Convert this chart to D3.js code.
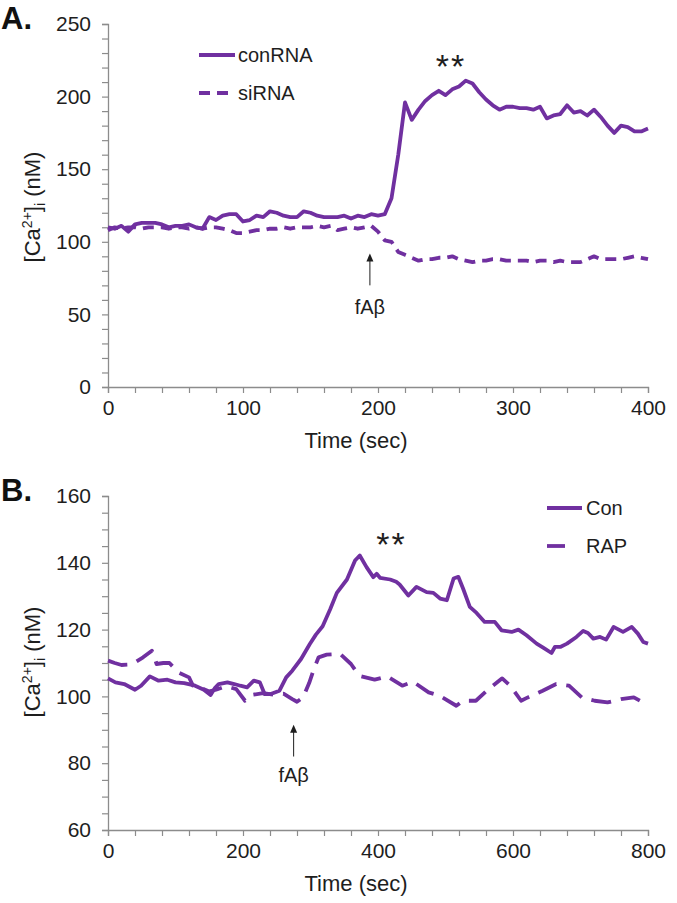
<!DOCTYPE html>
<html>
<head>
<meta charset="utf-8">
<script src="https://cdn.jsdelivr.net/npm/d3@7"></script>
<style>
  body { margin: 0; background: #fff; }
  text { font-family: "Liberation Sans", Arial, sans-serif; }
</style>
</head>
<body>
<script>
// Panel A data (time step 5 sec)
let timesA = d3.range(0, 401, 5);
let conRNA = [110,109,111,107,112,113,113,113,112,110,111,111,112,110,109,117,115,118,119,119,
	114,115,118,117,121,120,118,117,117,121,120,118,117,117,117,118,116,118,117,119,
	118,119,130,160,196,184,191,197,201,204,201,205,207,211,209,203,198,194,191,193,
	193,192,192,191,193,185,187,188,194,189,190,187,191,186,180,175,180,179,176,176,178];
let siRNA = [108,110,109,110,110,109,110,110,110,109,110,110,109,110,109,110,110,109,108,106,
	106,107,108,108,109,109,110,109,110,110,110,111,110,111,108,109,110,109,110,111,
	107,101,100,93,91,89,87,88,88,89,89,90,88,87,86,87,87,88,88,87,
	87,87,87,86,87,87,86,87,86,86,86,88,90,88,88,88,88,89,90,89,88];

// Panel B data [time, value]
let conB = [[0,105.4],[11,104.2],[24,103.7],[40,102],[49,103.2],[62,106],[75,104.7],[88,105],[100,104.2],
	[113,104],[129,103.2],[142,102],[152,100.4],[158,102.4],[164,103.7],[177,104.2],[187,103.7],[196,103.2],
	[206,102.7],[216,104.7],[225,104.2],[232,100.7],[241,100.7],[254,101.7],[264,105.7],[273,107.7],[286,111.2],
	[299,115.7],[308,118.5],[318,121],[329,126],[339,131],[354,135],[366,140.7],[373,142.2],[383,138.7],
	[393,135.7],[398,136.7],[403,135.5],[418,135],[427,134.3],[432,133.5],[445,130.2],[457,132.8],[472,131.2],
	[482,131],[492,129.3],[502,128.8],[512,135.3],[519,135.8],[526,132.3],[536,126.8],[546,125],[558,122.3],
	[573,122.3],[583,119.8],[598,119.3],[608,120],[620,118.3],[635,115.8],[647,114.3],[657,113],[662,114.8],
	[670,114.8],[680,115.8],[694,117.8],[704,119.6],[711,119],[719,117.3],[729,117.8],[738,117],[749,120.8],
	[763,119.3],[776,120.8],[785,118.8],[793,116.3],[800,115.8]];
let rapB = [[0,110.7],[10,110],[20,109.4],[30,109.5],[40,110.2],[52,111.7],[65,113.7],[72,109.7],[82,110],
	[91,110],[104,107.2],[120,105.7],[126,103.2],[136,102.7],[150,101.5],[160,102],[175,103],[190,102.2],
	[203,98.7],[215,100.5],[230,101],[245,100.5],[260,100.8],[273,99.2],[280,98.4],[289,99.7],[298,104],
	[305,108.2],[312,111.7],[324,112.5],[344,112.7],[360,109.7],[372,106.2],[395,105],[414,106],[436,103.2],
	[452,104.4],[475,101.2],[491,100.2],[516,97.2],[526,98.7],[545,98.7],[564,102.2],[584,105.4],[596,103.2],
	[612,98.7],[622,99.7],[644,101.7],[664,103.7],[683,103.2],[702,99.7],[721,98.7],[740,98.2],[760,99.2],
	[779,99.7],[788,98.7]];

let purple = "#7030a0";
let axisColor = "#8c8c8c";
let textColor = "#1e1e1e";

let svg = d3.select("body").append("svg")
	.attr("width", 677)
	.attr("height", 903);

function drawPanel(opt) {
	let g = svg.append("g");
	let x = d3.scaleLinear().domain(opt.xDomain).range([108, 648]);
	let y = d3.scaleLinear().domain(opt.yDomain).range([opt.bottom, opt.top]);

	// minor ticks, labels only on the major ones
	let yAxis = d3.axisLeft(y).tickValues(d3.range(opt.yDomain[0], opt.yDomain[1] + 0.01, opt.yMinor))
		.tickSize(6).tickFormat(d => (d % opt.yMajor === 0 ? d : ""));
	let xAxis = d3.axisBottom(x).tickValues(d3.range(opt.xDomain[0], opt.xDomain[1] + 0.01, opt.xMinor))
		.tickSize(6).tickFormat(d => (d % opt.xMajor === 0 ? d : ""));

	let ya = g.append("g").attr("transform", "translate(108,0)").call(yAxis);
	let xa = g.append("g").attr("transform", `translate(0,${opt.bottom})`).call(xAxis);
	[ya, xa].forEach(a => {
		a.select(".domain").attr("stroke", axisColor).attr("stroke-width", 1.3);
		a.selectAll(".tick line").attr("stroke", axisColor).attr("stroke-width", 1.2);
		a.selectAll(".tick text").attr("fill", textColor).style("font-size", "21px")
			.style("font-family", "'Liberation Sans', Arial, sans-serif");
	});
	ya.selectAll(".tick text").attr("x", -17);
	xa.selectAll(".tick text").attr("y", 13);

	// axis titles
	g.append("text").attr("x", 356).attr("y", opt.bottom + 61)
		.attr("text-anchor", "middle").style("font-size", "22px").attr("fill", textColor)
		.text("Time (sec)");
	let yl = g.append("text")
		.attr("transform", `translate(40,${opt.yTitle}) rotate(-90)`)
		.attr("text-anchor", "middle").style("font-size", "22px").attr("fill", textColor);
	yl.append("tspan").text("[Ca");
	yl.append("tspan").attr("dy", -8).style("font-size", "14px").text("2+");
	yl.append("tspan").attr("dy", 8).text("]");
	yl.append("tspan").attr("dy", 5).style("font-size", "14px").text("i");
	yl.append("tspan").attr("dy", -5).text(" (nM)");

	// panel letter
	g.append("text").attr("x", 1).attr("y", opt.top + 5)
		.style("font-size", "31px").style("font-weight", "bold").attr("fill", "#111")
		.text(opt.letter);

	let line = d3.line().x(d => x(d[0])).y(d => y(d[1]));
	opt.series.forEach(s => {
		g.append("path").datum(s.data)
			.attr("d", line)
			.attr("fill", "none")
			.attr("stroke", purple)
			.attr("stroke-width", 3.8)
			.attr("stroke-linejoin", "round")
			.attr("stroke-dasharray", s.dash || null);
	});

	// legend
	opt.series.forEach((s, i) => {
		let ly = opt.legY + i * opt.legGap;
		g.append("line").attr("x1", opt.legX).attr("x2", opt.legX + (s.legLen || opt.legLen))
			.attr("y1", ly).attr("y2", ly)
			.attr("stroke", purple).attr("stroke-width", 3.8)
			.attr("stroke-dasharray", s.dash || null);
		g.append("text").attr("x", opt.legX + opt.legLen + opt.legPad).attr("y", ly + 7)
			.style("font-size", "20px").attr("fill", textColor).text(s.name);
	});

	// stars
	g.append("text").attr("x", x(opt.star[0])).attr("y", y(opt.star[1]))
		.attr("text-anchor", "middle").style("font-size", "34px").style("letter-spacing", "2px")
		.attr("fill", textColor).text("**");

	// fAβ arrow
	let ax = x(opt.arrow[0]);
	g.append("line").attr("x1", ax).attr("x2", ax)
		.attr("y1", y(opt.arrow[2])).attr("y2", y(opt.arrow[1]) + 5)
		.attr("stroke", textColor).attr("stroke-width", 1);
	g.append("path")
		.attr("d", `M${ax},${y(opt.arrow[1])} l-3.5,8 l7,0 z`)
		.attr("fill", textColor);
	g.append("text").attr("x", ax).attr("y", y(opt.arrow[3]) + 7)
		.attr("text-anchor", "middle").style("font-size", "20px").attr("fill", textColor)
		.text("fAβ");
}

drawPanel({
	letter: "A.",
	xDomain: [0, 400], yDomain: [0, 250],
	xMinor: 20, xMajor: 100, yMinor: 10, yMajor: 50,
	top: 24, bottom: 387, yTitle: 207,
	series: [
		{ name: "conRNA", data: timesA.map((t, i) => [t, conRNA[i]]) },
		{ name: "siRNA", data: timesA.map((t, i) => [t, siRNA[i]]), dash: "11,7" }
	],
	legX: 199, legY: 55, legGap: 38, legLen: 36, legPad: 3,
	star: [254, 213],
	arrow: [194, 92, 70, 55]
});

drawPanel({
	letter: "B.",
	xDomain: [0, 800], yDomain: [60, 160],
	xMinor: 40, xMajor: 200, yMinor: 5, yMajor: 20,
	top: 496, bottom: 830, yTitle: 662,
	series: [
		{ name: "Con", data: conB },
		{ name: "RAP", data: rapB, dash: "20,10", legLen: 18 }
	],
	legX: 547, legY: 508, legGap: 38, legLen: 35, legPad: 4,
	star: [420, 142],
	arrow: [275, 91.5, 82, 76.5]
});
</script>
</body>
</html>
